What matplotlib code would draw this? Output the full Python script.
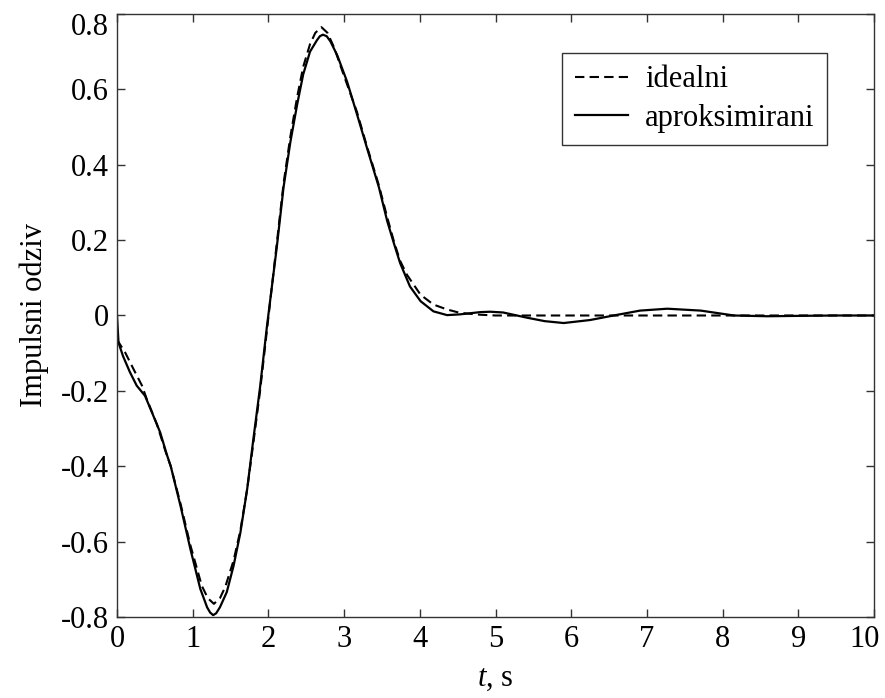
import matplotlib
matplotlib.use("Agg")
import matplotlib.pyplot as plt
from matplotlib.transforms import ScaledTranslation

# aproksimirani (solid)
t_aprox = [0, 0.02, 0.08, 0.17, 0.26, 0.37, 0.48, 0.57, 0.66, 0.71, 0.84, 0.97,
           1.10, 1.19, 1.23, 1.27, 1.31, 1.36, 1.45, 1.54, 1.63, 1.72, 1.80, 1.89,
           1.98, 2.11, 2.20, 2.29, 2.38, 2.46, 2.55, 2.64, 2.68, 2.72, 2.77, 2.82,
           2.91, 3.04, 3.17, 3.30, 3.46, 3.57, 3.66, 3.74, 3.87, 4.01, 4.18, 4.36,
           4.53, 4.80, 4.93, 5.10, 5.42, 5.65, 5.90, 6.25, 6.56, 6.91, 7.27, 7.71,
           8.15, 8.59, 9.0, 9.5, 10.0]
y_aprox = [0, -0.072, -0.108, -0.15, -0.186, -0.213, -0.266, -0.31, -0.37, -0.40,
           -0.506, -0.62, -0.725, -0.774, -0.788, -0.795, -0.79, -0.774, -0.734,
           -0.664, -0.576, -0.46, -0.33, -0.19, -0.03, 0.18, 0.34, 0.46, 0.56,
           0.64, 0.70, 0.73, 0.741, 0.745, 0.741, 0.727, 0.69, 0.62, 0.534, 0.446,
           0.34, 0.25, 0.19, 0.139, 0.077, 0.038, 0.011, 0.001, 0.003, 0.009, 0.01,
           0.008, -0.006, -0.015, -0.02, -0.012, 0.0, 0.013, 0.018, 0.013, 0.0,
           -0.002, -0.001, 0.0, 0.0]

# idealni (dashed)
t_ideal = [0, 0.11, 0.22, 0.33, 0.39, 0.53, 0.64, 0.71, 0.84, 0.97, 1.12, 1.20,
           1.28, 1.36, 1.43, 1.54, 1.63, 1.72, 1.80, 1.89, 1.98, 2.11, 2.20, 2.29,
           2.38, 2.46, 2.55, 2.62, 2.70, 2.78, 2.87, 3.00, 3.17, 3.30, 3.46, 3.57,
           3.66, 3.74, 3.83, 4.01, 4.18, 4.36, 4.53, 4.80, 5.0, 6.0, 7.0, 8.0, 9.0,
           10.0]
y_ideal = [-0.064, -0.099, -0.143, -0.186, -0.22, -0.29, -0.36, -0.40, -0.50,
           -0.61, -0.717, -0.75, -0.765, -0.75, -0.72, -0.65, -0.57, -0.46, -0.34,
           -0.20, -0.04, 0.19, 0.35, 0.475, 0.58, 0.66, 0.72, 0.75, 0.765, 0.75,
           0.71, 0.635, 0.54, 0.45, 0.345, 0.26, 0.195, 0.145, 0.108, 0.055, 0.029,
           0.016, 0.007, 0.002, 0, 0, 0, 0, 0, 0]

x_ticks = list(range(0, 11))
y_ticks = [-0.8, -0.6, -0.4, -0.2, 0, 0.2, 0.4, 0.6, 0.8]
y_tick_labels = ["-0.8", "-0.6", "-0.4", "-0.2", "0", "0.2", "0.4", "0.6", "0.8"]

plt.rcParams["font.family"] = "Liberation Serif"
plt.rcParams["mathtext.fontset"] = "custom"
plt.rcParams["mathtext.rm"] = "Liberation Serif"
plt.rcParams["mathtext.it"] = "Liberation Serif:italic"
plt.rcParams["axes.unicode_minus"] = False
plt.rcParams["font.size"] = 22

fig = plt.figure(figsize=(8.85, 6.98), dpi=100)
ax = fig.add_axes([0.1322, 0.116, 0.8554, 0.864])

ax.plot(t_ideal, y_ideal, color="black", lw=1.5, linestyle=(0, (4.5, 2.5)),
        label="idealni")
ax.plot(t_aprox, y_aprox, color="black", lw=1.6, label="aproksimirani")

ax.set_xlim(0, 10)
ax.set_ylim(-0.8, 0.8)
ax.set_xticks(x_ticks)
ax.set_yticks(y_ticks)
ax.set_yticklabels(y_tick_labels)
ax.tick_params(direction="in", top=True, right=True, length=6, width=1,
               color="#333333", pad=6)
for s in ax.spines.values():
    s.set_color("#333333")
    s.set_linewidth(1)

# keep end labels inside the figure, as in the original export
xlabels = ax.get_xticklabels()
xlabels[-1].set_transform(xlabels[-1].get_transform()
                          + ScaledTranslation(-0.09, 0, fig.dpi_scale_trans))
ylabels = ax.get_yticklabels()
ylabels[-1].set_transform(ylabels[-1].get_transform()
                          + ScaledTranslation(0, -0.10, fig.dpi_scale_trans))

ax.set_xlabel(r"$t$, s", labelpad=7)
ax.set_ylabel("Impulsni odziv", labelpad=8)

leg = ax.legend(loc="upper right", bbox_to_anchor=(0.9375, 0.935),
                fancybox=False, edgecolor="#333333", framealpha=1,
                handlelength=1.75, handletextpad=0.55, borderpad=0.4,
                labelspacing=0.3, borderaxespad=0)
leg.get_frame().set_linewidth(1)

fig.savefig("out.png", dpi=100)
